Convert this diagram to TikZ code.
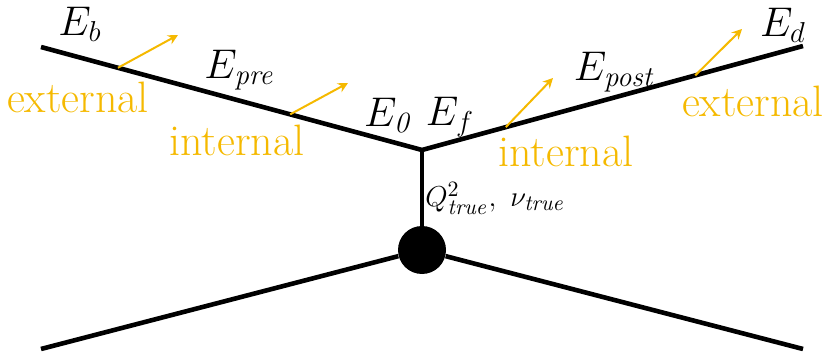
\documentclass[tikz,border=0pt]{standalone}
\usepackage{amsmath}
\usepackage{tikz}
\usetikzlibrary{arrows.meta}
\definecolor{amber}{RGB}{245,185,0}

\begin{document}
\begin{tikzpicture}[x=0.5pt, y=-0.5pt,
    every node/.style={font=\fontsize{21}{25}\selectfont},
    leg/.style={line width=2.3pt, black},
    kick/.style={amber, line width=1pt, -{Stealth[length=5pt, width=5pt]}},
    lbl/.style={amber, inner sep=0pt, font=\fontsize{22}{26}\selectfont}]
    \useasboundingbox (0,0) rectangle (824,352);

    % Points of the diagram
    \coordinate (b) at (41,47);
    \coordinate (v) at (422,150);
    \coordinate (d) at (803,46);
    \coordinate (l) at (41,349);
    \coordinate (r) at (803,349);
    \node[circle, fill=black, inner sep=0pt, minimum size=24pt] (blob) at (422,250) {};

    % Lines
    \draw[leg, line join=miter] (b) -- (v) -- (d);
    \draw[leg] (v) -- (blob);
    \draw[leg] (blob) -- (l);
    \draw[leg] (blob) -- (r);

    % Emission points
    \path (b) -- (v) coordinate[pos=0.202] (ext-in) coordinate[pos=0.654] (int-in);
    \path (v) -- (d) coordinate[pos=0.22] (int-out) coordinate[pos=0.717] (ext-out);
    \coordinate (ext-in-tip) at (178,35);
    \coordinate (int-in-tip) at (348,83);
    \coordinate (int-out-tip) at (553,78);
    \coordinate (ext-out-tip) at (742,29);
    \draw[kick] (ext-in) -- (ext-in-tip);
    \draw[kick] (int-in) -- (int-in-tip);
    \draw[kick] (int-out) -- (int-out-tip);
    \draw[kick] (ext-out) -- (ext-out-tip);

    % Energies
    \node (Eb) at (80,24) {$E_b$};
    \node (Epre) at (240,70) {$E_{\mathit{pre}}$};
    \node (E0) at (387,116) {$E_{\textit{0}}$};
    \node (Ef) at (450,117) {$E_f$};
    \node (Epost) at (615,72) {$E_{\mathit{post}}$};
    \node (Ed) at (783,25) {$E_d$};
    \node[anchor=west, inner sep=0pt, font=\fontsize{15}{18}\selectfont] (Qnu) at (425,198)
        {$Q^2_{\mathit{true}},\ \nu_{\mathit{true}}$};

    % Radiation labels
    \node[lbl] (ext-in-lbl) at (78,97) {external};
    \node[lbl] (int-in-lbl) at (237,140) {internal};
    \node[lbl] (int-out-lbl) at (566,151) {internal};
    \node[lbl] (ext-out-lbl) at (753,101) {external};
\end{tikzpicture}
\end{document}
